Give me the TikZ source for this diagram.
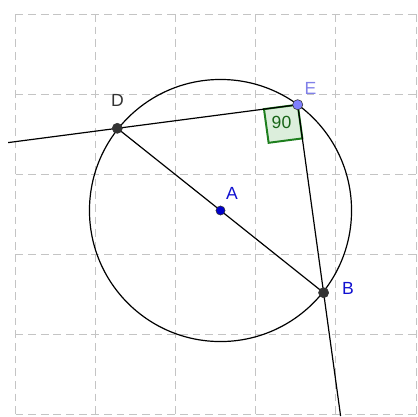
\documentclass[tikz,border=0pt]{standalone}
\usepackage{fontspec}
\setmainfont{Liberation Sans}
\usetikzlibrary{calc}
\definecolor{gridgray}{HTML}{C4C4C4}
\definecolor{ptdark}{HTML}{333333}
\definecolor{ptblue}{HTML}{0000CC}
\definecolor{ptlight}{HTML}{7F7FFF}
\definecolor{lblE}{HTML}{8080E8}
\definecolor{lblblue}{HTML}{1010D0}
\definecolor{angfill}{HTML}{DCEEDC}
\definecolor{anggreen}{HTML}{1E7F1E}
\begin{document}
\begin{tikzpicture}[x=0.025cm,y=-0.025cm,
  gridline/.style={gridgray,line width=0.7pt,dash pattern=on 5.5pt off 3.5pt},
  geoline/.style={black,line width=0.85pt},
  ptstyle/.style={circle,inner sep=0pt,minimum size=7.2pt,draw=black!80,line width=0.4pt},
  lbl/.style={font=\fontsize{12.5}{15}\selectfont,inner sep=0pt}]
\useasboundingbox (0,0) rectangle (418,416);
% grid
\foreach \gx in {15.5,95.6,175.7,255.8,335.9,416}
  \draw[gridline] (\gx,14) -- (\gx,416);
\foreach \gy in {14,94,174,254,334,414}
  \draw[gridline] (15.5,\gy) -- (418,\gy);
% points
\coordinate (A) at (220.5,210.5);
\coordinate (D) at (117.3,128.3);
\coordinate (B) at (323.6,292.7);
\coordinate (E) at (297.7,104.7);
\coordinate (L) at ($(E)!1.605!(D)$);
\coordinate (M) at ($(E)!1.656!(B)$);
% right angle mark
\coordinate (Q1) at ($(E)!0.85cm!(D)$);
\coordinate (Q2) at ($(E)!0.85cm!(B)$);
\coordinate (Q3) at ($(Q1)+(Q2)-(E)$);
\filldraw[fill=angfill,draw=anggreen,line width=1.4pt,line join=miter] (E) -- (Q1) -- (Q3) -- (Q2) -- cycle;
\node[lbl,text=anggreen!80!black] (ang) at (281.5,122.5) {90};
% circle and lines
\draw[geoline] (A) circle[radius=3.275cm];
\draw[geoline] (L) -- (D) -- (E);
\draw[geoline] (E) -- (B) -- (M);
\draw[geoline] (D) -- (A) -- (B);
% point markers
\node[ptstyle,fill=ptdark] (nD) at (D) {};
\node[ptstyle,fill=ptdark] (nB) at (B) {};
\node[ptstyle,fill=ptblue,minimum size=6.5pt] (nA) at (A) {};
\node[ptstyle,fill=ptlight] (nE) at (E) {};
% labels
\node[lbl,text=ptdark] (tD) at (117.5,100) {D};
\node[lbl,text=lblE] (tE) at (310.5,88) {E};
\node[lbl,text=lblblue] (tA) at (232,193.5) {A};
\node[lbl,text=lblblue] (tB) at (348,288) {B};
\end{tikzpicture}
\end{document}
